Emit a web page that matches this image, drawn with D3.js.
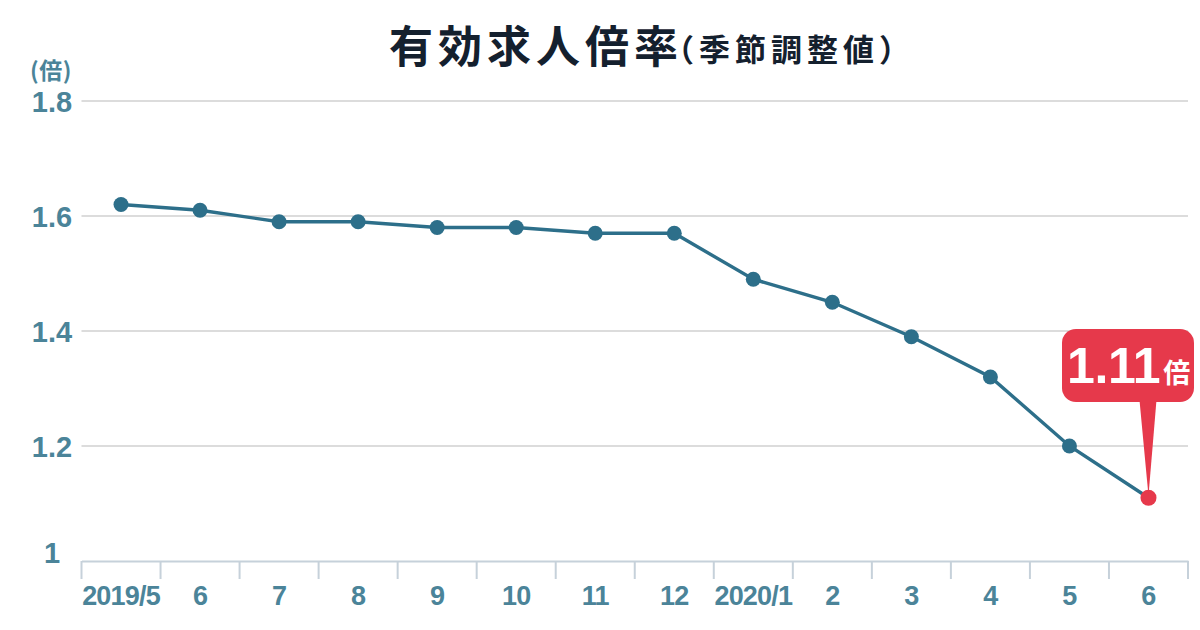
<!DOCTYPE html>
<html><head><meta charset="utf-8">
<script src="https://cdn.jsdelivr.net/npm/d3@7"></script>
<style>
html,body{margin:0;padding:0;background:#fff;}
svg{display:block;}
</style></head>
<body>
<svg id="c" width="1200" height="630"></svg>
<script>
const categories = ["2019/5","6","7","8","9","10","11","12","2020/1","2","3","4","5","6"];
const values = [1.62,1.61,1.59,1.59,1.58,1.58,1.57,1.57,1.49,1.45,1.39,1.32,1.20,1.11];
const yTicks = [1,1.2,1.4,1.6,1.8];
const yTickLabels = ["1","1.2","1.4","1.6","1.8"];
const titleMain = "有効求人倍率";
const titleSub = "（季節調整値）";
const unitLabel = "(倍)";
const calloutValue = "1.11";
const calloutUnit = "倍";

(function(){
const svg = d3.select("#c");
const L = 81.5, R = 1188, T = 101, B = 561;
const keys = categories.map((c,i)=>i);
const x = d3.scaleBand().domain(keys).range([L,R]).paddingInner(0).paddingOuter(0);
const y = d3.scaleLinear().domain([1,1.8]).range([B,T]);

const teal = "#2d6f8a", labelCol = "#4b8499", red = "#e6394b";
const jp = "'Noto Sans CJK JP','Noto Sans',sans-serif";
const num = "'Liberation Sans',Arial,sans-serif";

// title
const t = svg.append("text").attr("x",389).attr("y",63).attr("text-anchor","start")
  .attr("font-family",jp).attr("fill","#14202e").attr("font-weight",700);
t.append("tspan").attr("font-size",44).attr("letter-spacing",5).text(titleMain);
t.append("tspan").attr("font-size",31).attr("letter-spacing",5).attr("dx",-20).attr("dy",-2).text(titleSub);

// unit
svg.append("text").attr("x",51).attr("y",79).attr("text-anchor","middle")
  .attr("font-family",jp).attr("font-weight",700).attr("font-size",23).attr("letter-spacing",0.5)
  .attr("fill",labelCol).text(unitLabel);

// grid lines
svg.append("g").selectAll("line").data(yTicks.filter(v=>v>1)).join("line")
  .attr("x1",L).attr("x2",R).attr("y1",d=>y(d)).attr("y2",d=>y(d))
  .attr("stroke","#dcdcdc").attr("stroke-width",2);

// y labels
svg.append("g").selectAll("text").data(yTicks).join("text")
  .attr("x",52).attr("y",d=>y(d)+(d===1?2:11)).attr("text-anchor","middle")
  .attr("font-family",num).attr("font-size",29).attr("font-weight",700).attr("fill",labelCol)
  .text((d,i)=>yTickLabels[i]);

// x axis
const xAxis = d3.axisBottom(x).tickSizeOuter(0).tickSize(0).tickFormat(i=>categories[i]);
const gx = svg.append("g").attr("transform",`translate(0,${B})`).call(xAxis);
gx.select(".domain").attr("stroke","#c6d1da").attr("stroke-width",2);
gx.selectAll(".tick text").attr("font-family",num).attr("font-size",27).attr("font-weight",700)
  .attr("fill",labelCol).attr("letter-spacing",-0.8).attr("dy","1.52em");
// band boundary ticks
const bounds = keys.map(k=>x(k)).concat([x(keys[keys.length-1])+x.bandwidth()]);
svg.append("g").selectAll("line").data(bounds).join("line")
  .attr("x1",d=>d).attr("x2",d=>d).attr("y1",B).attr("y2",B+18)
  .attr("stroke","#c6d1da").attr("stroke-width",2);

// line
const cx = i=>x(i)+x.bandwidth()/2;
const line = d3.line().x((d,i)=>cx(i)).y(d=>y(d));
svg.append("path").datum(values).attr("d",line).attr("fill","none")
  .attr("stroke",teal).attr("stroke-width",3.4);

svg.append("g").selectAll("circle").data(values).join("circle")
  .attr("cx",(d,i)=>cx(i)).attr("cy",d=>y(d)).attr("r",(d,i)=>i===values.length-1?8:7.5)
  .attr("fill",(d,i)=>i===values.length-1?red:teal);

// callout
const li = values.length-1, px = cx(li), py = y(values[li]);
const bx = 1062, by = 329, bw = 132, bh = 73;
svg.append("path").attr("fill",red)
  .attr("d",`M${px-9},${by+bh-2} L${px+8},${by+bh-2} L${px},${py-2} Z`);
svg.append("rect").attr("x",bx).attr("y",by).attr("width",bw).attr("height",bh).attr("rx",14).attr("fill",red);
const ct = svg.append("text").attr("x",1067).attr("y",383).attr("text-anchor","start")
  .attr("fill","#fff").attr("font-weight",700);
ct.append("tspan").attr("font-family",num).attr("font-size",50).attr("letter-spacing",-0.3).text(calloutValue);
ct.append("tspan").attr("font-family",jp).attr("font-size",27).attr("dx",3).text(calloutUnit);
})();
</script>
</body></html>
